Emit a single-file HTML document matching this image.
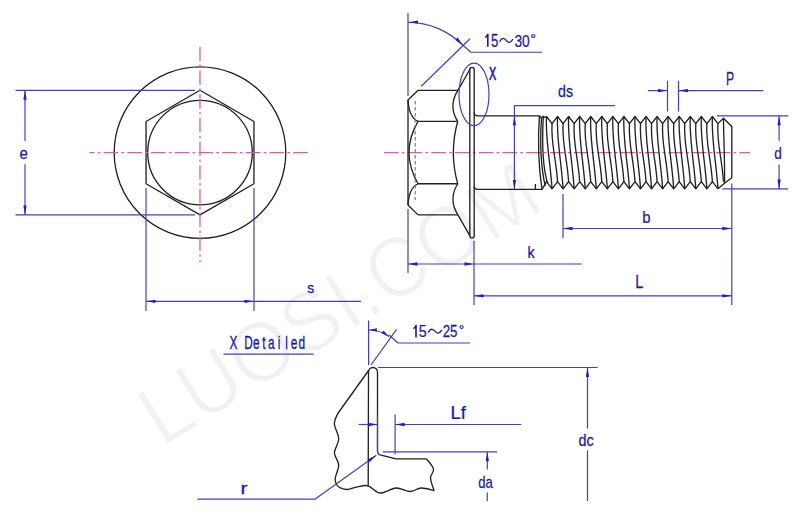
<!DOCTYPE html>
<html><head><meta charset="utf-8"><style>
html,body{margin:0;padding:0;background:#fff;}
svg{display:block;}
</style></head><body>
<svg width="800" height="527" viewBox="0 0 800 527">
<rect width="800" height="527" fill="#fff"/>
<g transform="translate(162,447.4) rotate(-31.8) scale(0.95,1)">
<text x="0" y="0" font-size="85" font-family='"Liberation Sans", sans-serif' fill="#f1f1f1" stroke="#ffffff" stroke-width="1.6">LUOSI.COM</text>
</g>
<circle cx="200" cy="152.6" r="85.8" fill="none" stroke="#202020" stroke-width="1.32"/>
<path d="M200.00,90.30 L253.95,121.45 L253.95,183.75 L200.00,214.90 L146.05,183.75 L146.05,121.45 Z" fill="none" stroke="#202020" stroke-width="1.32" stroke-linejoin="round" />
<circle cx="200" cy="152.6" r="52.3" fill="none" stroke="#202020" stroke-width="1.32"/>
<line x1="89.5" y1="152.6" x2="308.6" y2="152.6" stroke="#e052bc" stroke-width="1.25" stroke-dasharray="14.5 3.3 2.6 3.3" stroke-dashoffset="9.5"/>
<line x1="200" y1="46.8" x2="200" y2="262" stroke="#e052bc" stroke-width="1.25" stroke-dasharray="14.5 3.3 2.6 3.3" stroke-dashoffset="0"/>
<line x1="15.50" y1="90.30" x2="195.00" y2="90.30" stroke="#3e3ecf" stroke-width="1.2" />
<line x1="15.50" y1="214.90" x2="195.00" y2="214.90" stroke="#3e3ecf" stroke-width="1.2" />
<line x1="25.00" y1="90.30" x2="25.00" y2="141.00" stroke="#3e3ecf" stroke-width="1.2" />
<line x1="25.00" y1="164.20" x2="25.00" y2="214.90" stroke="#3e3ecf" stroke-width="1.2" />
<path d="M25.00,90.30 L26.65,99.80 L23.35,99.80 Z" fill="#1e1ec4"/>
<path d="M25.00,214.90 L23.35,205.40 L26.65,205.40 Z" fill="#1e1ec4"/>
<text transform="translate(19.47,158.94) scale(0.9162,1)" font-size="16.26" font-family='"Liberation Sans", sans-serif' fill="#1c16b2" stroke="#1c16b2" stroke-width="0.25">e</text>
<line x1="146.00" y1="188.00" x2="146.00" y2="311.00" stroke="#3e3ecf" stroke-width="1.2" />
<line x1="254.00" y1="188.00" x2="254.00" y2="311.00" stroke="#3e3ecf" stroke-width="1.2" />
<line x1="146.00" y1="301.30" x2="361.00" y2="301.30" stroke="#3e3ecf" stroke-width="1.2" />
<path d="M146.00,301.30 L155.50,299.65 L155.50,302.95 Z" fill="#1e1ec4"/>
<path d="M254.00,301.30 L244.50,302.95 L244.50,299.65 Z" fill="#1e1ec4"/>
<text transform="translate(307.32,292.85) scale(0.9424,1)" font-size="14.79" font-family='"Liberation Sans", sans-serif' fill="#1c16b2" stroke="#1c16b2" stroke-width="0.25">s</text>
<line x1="384" y1="152.6" x2="750" y2="152.6" stroke="#e052bc" stroke-width="1.25" stroke-dasharray="14.5 3.3 2.6 3.3" stroke-dashoffset="0"/>
<line x1="408.00" y1="13.00" x2="408.00" y2="96.00" stroke="#3e3ecf" stroke-width="1.2" />
<line x1="408.00" y1="209.00" x2="408.00" y2="273.00" stroke="#3e3ecf" stroke-width="1.2" />
<path d="M408,22.299999999999997 A77,77 0 0 1 463.11,45.52" fill="none" stroke="#3e3ecf" stroke-width="1.2"/>
<path d="M408.50,22.30 L417.97,20.46 L418.03,23.76 Z" fill="#1e1ec4"/>
<path d="M463.11,45.52 L455.29,39.88 L457.65,37.57 Z" fill="#1e1ec4"/>
<line x1="421.30" y1="86.30" x2="470.00" y2="38.75" stroke="#3e3ecf" stroke-width="1.2" />
<path d="M462.50,44.75 L470.75,52.25 L542.00,52.25" fill="none" stroke="#3e3ecf" stroke-width="1.2" stroke-linejoin="round" />
<path d="M485.2,37.6 Q486.8,36.6 487.8,34.3 L487.8,46.7" fill="none" stroke="#1c16b2" stroke-width="1.6" stroke-linejoin="round"/>
<text transform="translate(490.88,46.53) scale(0.7462,1)" font-size="17.49" font-family='"Liberation Sans", sans-serif' fill="#1c16b2" stroke="#1c16b2" stroke-width="0.25">5</text>
<path d="M499.80,41.30 C502.36,36.50 504.92,38.60 506.20,40.40 S510.04,44.30 512.60,39.50" fill="none" stroke="#1c16b2" stroke-width="1.35" stroke-linecap="round"/>
<text transform="translate(514.39,46.53) scale(0.7956,1)" font-size="17.24" font-family='"Liberation Sans", sans-serif' fill="#1c16b2" stroke="#1c16b2" stroke-width="0.25">30</text>
<text transform="translate(530.34,43.19) scale(1.2013,1)" font-size="11.89" font-family='"Liberation Sans", sans-serif' fill="#1c16b2" stroke="#1c16b2" stroke-width="0.25">°</text>
<path d="M418.00,90.30 L457.90,90.30" fill="none" stroke="#202020" stroke-width="1.32" stroke-linejoin="round" />
<path d="M418.00,214.90 L457.90,214.90" fill="none" stroke="#202020" stroke-width="1.32" stroke-linejoin="round" />
<path d="M418.00,121.45 L457.70,121.45" fill="none" stroke="#202020" stroke-width="1.32" stroke-linejoin="round" />
<path d="M418.00,183.75 L457.70,183.75" fill="none" stroke="#202020" stroke-width="1.32" stroke-linejoin="round" />
<path d="M408,205 L408,100 L418,90.3" fill="none" stroke="#202020" stroke-width="1.32" stroke-linejoin="round" />
<path d="M408,205 L418,214.9" fill="none" stroke="#202020" stroke-width="1.32" stroke-linejoin="round" />
<path d="M408,100 C408.6,111 412,118.5 418,121.45" fill="none" stroke="#202020" stroke-width="1.32" stroke-linejoin="round" />
<path d="M418,121.45 Q400,152.6 418,183.75" fill="none" stroke="#202020" stroke-width="1.32" stroke-linejoin="round" />
<path d="M408,205 C408.6,194 412,186.5 418,183.75" fill="none" stroke="#202020" stroke-width="1.32" stroke-linejoin="round" />
<path d="M457.9,90.3 Q448,105.875 457.7,121.45" fill="none" stroke="#202020" stroke-width="1.32" stroke-linejoin="round" />
<path d="M457.7,121.45 Q449,152.6 457.7,183.75" fill="none" stroke="#202020" stroke-width="1.32" stroke-linejoin="round" />
<path d="M457.7,183.75 Q448,199.325 457.9,214.9" fill="none" stroke="#202020" stroke-width="1.32" stroke-linejoin="round" />
<line x1="415.20" y1="101.00" x2="415.20" y2="200.00" stroke="#707070" stroke-width="1.1" stroke-dasharray="3.5 2.5"/>
<path d="M457.9,90.3 L469.8,69.5 A2.2,2.2 0 0 1 474.2,69.5 L474.2,235.7 A2.2,2.2 0 0 1 469.8,235.7 L457.9,214.9" fill="none" stroke="#202020" stroke-width="1.32" stroke-linejoin="round" />
<path d="M474.2,112.5 Q474.4,115.8 477.5,115.8 L539.4,115.8" fill="none" stroke="#202020" stroke-width="1.32" stroke-linejoin="round" />
<path d="M474.2,186.2 Q474.4,189.4 477.5,189.4 L542,189.4" fill="none" stroke="#202020" stroke-width="1.32" stroke-linejoin="round" />
<line x1="469.80" y1="69.50" x2="469.80" y2="235.70" stroke="#202020" stroke-width="1.32" />
<line x1="535.40" y1="184.00" x2="535.40" y2="189.40" stroke="#202020" stroke-width="1.32" />
<path d="M539.4,115.8 L541.5,118 L543.3,116.3 L545,117.5 L546.50,116.50 L552.03,123.60 L557.56,116.50 L563.09,123.60 L568.62,116.50 L574.15,123.60 L579.68,116.50 L585.21,123.60 L590.74,116.50 L596.27,123.60 L601.80,116.50 L607.33,123.60 L612.86,116.50 L618.39,123.60 L623.92,116.50 L629.45,123.60 L634.98,116.50 L640.51,123.60 L646.04,116.50 L651.57,123.60 L657.10,116.50 L662.63,123.60 L668.16,116.50 L673.69,123.60 L679.22,116.50 L684.75,123.60 L690.28,116.50 L695.81,123.60 L701.34,116.50 L706.87,123.60 L712.40,116.50 L717.93,123.60 L723.46,118.20 L731.8,126.5 L731.8,177.8 L724.5,183.3 L717.93,188.8" fill="none" stroke="#202020" stroke-width="1.32" stroke-linejoin="round" />
<path d="M542,189.4 L546.50,181.60 L552.03,188.80 L557.56,181.60 L563.09,188.80 L568.62,181.60 L574.15,188.80 L579.68,181.60 L585.21,188.80 L590.74,181.60 L596.27,188.80 L601.80,181.60 L607.33,188.80 L612.86,181.60 L618.39,188.80 L623.92,181.60 L629.45,188.80 L634.98,181.60 L640.51,188.80 L646.04,181.60 L651.57,188.80 L657.10,181.60 L662.63,188.80 L668.16,181.60 L673.69,188.80 L679.22,181.60 L684.75,188.80 L690.28,181.60 L695.81,188.80 L701.34,181.60 L706.87,188.80 L712.40,181.60 L717.93,188.80" fill="none" stroke="#202020" stroke-width="1.32" stroke-linejoin="round" />
<path d="M546.50,116.5 C545.30,138.50 550.43,162.80 552.03,188.8" fill="none" stroke="#202020" stroke-width="1.32" stroke-linejoin="round" />
<path d="M552.03,123.6 C550.83,143.60 555.96,157.60 557.56,181.6" fill="none" stroke="#202020" stroke-width="1.32" stroke-linejoin="round" />
<path d="M557.56,116.5 C556.36,138.50 561.49,162.80 563.09,188.8" fill="none" stroke="#202020" stroke-width="1.32" stroke-linejoin="round" />
<path d="M563.09,123.6 C561.89,143.60 567.02,157.60 568.62,181.6" fill="none" stroke="#202020" stroke-width="1.32" stroke-linejoin="round" />
<path d="M568.62,116.5 C567.42,138.50 572.55,162.80 574.15,188.8" fill="none" stroke="#202020" stroke-width="1.32" stroke-linejoin="round" />
<path d="M574.15,123.6 C572.95,143.60 578.08,157.60 579.68,181.6" fill="none" stroke="#202020" stroke-width="1.32" stroke-linejoin="round" />
<path d="M579.68,116.5 C578.48,138.50 583.61,162.80 585.21,188.8" fill="none" stroke="#202020" stroke-width="1.32" stroke-linejoin="round" />
<path d="M585.21,123.6 C584.01,143.60 589.14,157.60 590.74,181.6" fill="none" stroke="#202020" stroke-width="1.32" stroke-linejoin="round" />
<path d="M590.74,116.5 C589.54,138.50 594.67,162.80 596.27,188.8" fill="none" stroke="#202020" stroke-width="1.32" stroke-linejoin="round" />
<path d="M596.27,123.6 C595.07,143.60 600.20,157.60 601.80,181.6" fill="none" stroke="#202020" stroke-width="1.32" stroke-linejoin="round" />
<path d="M601.80,116.5 C600.60,138.50 605.73,162.80 607.33,188.8" fill="none" stroke="#202020" stroke-width="1.32" stroke-linejoin="round" />
<path d="M607.33,123.6 C606.13,143.60 611.26,157.60 612.86,181.6" fill="none" stroke="#202020" stroke-width="1.32" stroke-linejoin="round" />
<path d="M612.86,116.5 C611.66,138.50 616.79,162.80 618.39,188.8" fill="none" stroke="#202020" stroke-width="1.32" stroke-linejoin="round" />
<path d="M618.39,123.6 C617.19,143.60 622.32,157.60 623.92,181.6" fill="none" stroke="#202020" stroke-width="1.32" stroke-linejoin="round" />
<path d="M623.92,116.5 C622.72,138.50 627.85,162.80 629.45,188.8" fill="none" stroke="#202020" stroke-width="1.32" stroke-linejoin="round" />
<path d="M629.45,123.6 C628.25,143.60 633.38,157.60 634.98,181.6" fill="none" stroke="#202020" stroke-width="1.32" stroke-linejoin="round" />
<path d="M634.98,116.5 C633.78,138.50 638.91,162.80 640.51,188.8" fill="none" stroke="#202020" stroke-width="1.32" stroke-linejoin="round" />
<path d="M640.51,123.6 C639.31,143.60 644.44,157.60 646.04,181.6" fill="none" stroke="#202020" stroke-width="1.32" stroke-linejoin="round" />
<path d="M646.04,116.5 C644.84,138.50 649.97,162.80 651.57,188.8" fill="none" stroke="#202020" stroke-width="1.32" stroke-linejoin="round" />
<path d="M651.57,123.6 C650.37,143.60 655.50,157.60 657.10,181.6" fill="none" stroke="#202020" stroke-width="1.32" stroke-linejoin="round" />
<path d="M657.10,116.5 C655.90,138.50 661.03,162.80 662.63,188.8" fill="none" stroke="#202020" stroke-width="1.32" stroke-linejoin="round" />
<path d="M662.63,123.6 C661.43,143.60 666.56,157.60 668.16,181.6" fill="none" stroke="#202020" stroke-width="1.32" stroke-linejoin="round" />
<path d="M668.16,116.5 C666.96,138.50 672.09,162.80 673.69,188.8" fill="none" stroke="#202020" stroke-width="1.32" stroke-linejoin="round" />
<path d="M673.69,123.6 C672.49,143.60 677.62,157.60 679.22,181.6" fill="none" stroke="#202020" stroke-width="1.32" stroke-linejoin="round" />
<path d="M679.22,116.5 C678.02,138.50 683.15,162.80 684.75,188.8" fill="none" stroke="#202020" stroke-width="1.32" stroke-linejoin="round" />
<path d="M684.75,123.6 C683.55,143.60 688.68,157.60 690.28,181.6" fill="none" stroke="#202020" stroke-width="1.32" stroke-linejoin="round" />
<path d="M690.28,116.5 C689.08,138.50 694.21,162.80 695.81,188.8" fill="none" stroke="#202020" stroke-width="1.32" stroke-linejoin="round" />
<path d="M695.81,123.6 C694.61,143.60 699.74,157.60 701.34,181.6" fill="none" stroke="#202020" stroke-width="1.32" stroke-linejoin="round" />
<path d="M701.34,116.5 C700.14,138.50 705.27,162.80 706.87,188.8" fill="none" stroke="#202020" stroke-width="1.32" stroke-linejoin="round" />
<path d="M706.87,123.6 C705.67,143.60 710.80,157.60 712.40,181.6" fill="none" stroke="#202020" stroke-width="1.32" stroke-linejoin="round" />
<path d="M712.40,116.5 C711.20,138.50 716.33,162.80 717.93,188.8" fill="none" stroke="#202020" stroke-width="1.32" stroke-linejoin="round" />
<path d="M717.93,123.6 C716.73,143.60 721.86,157.60 723.46,181.6" fill="none" stroke="#202020" stroke-width="1.32" stroke-linejoin="round" />
<path d="M723.46,118.2 C723.76,140 724.96,165 724.50,183.3" fill="none" stroke="#202020" stroke-width="1.32" stroke-linejoin="round" />
<path d="M539.4,115.8 C537.8,140 539,170 542,189.4" fill="none" stroke="#202020" stroke-width="1.32" stroke-linejoin="round" />
<path d="M541.5,118 C539.8,145 541.5,170 545.2,186" fill="none" stroke="#202020" stroke-width="1.32" stroke-linejoin="round" />
<path d="M543.3,116.3 C541.8,145 543.5,170 547.5,183" fill="none" stroke="#202020" stroke-width="1.32" stroke-linejoin="round" />
<ellipse cx="474" cy="94.4" rx="15" ry="31.3" fill="none" stroke="#3e3ecf" stroke-width="1.2"/>
<text transform="translate(489.06,79.60) scale(0.5967,1)" font-size="18.04" font-family='"Liberation Sans", sans-serif' fill="#1c16b2" stroke="#1c16b2" stroke-width="0.7">X</text>
<path d="M615.00,105.60 L514.40,105.60 L514.40,189.40" fill="none" stroke="#3e3ecf" stroke-width="1.2" stroke-linejoin="round" />
<path d="M514.40,115.80 L516.05,125.30 L512.75,125.30 Z" fill="#1e1ec4"/>
<path d="M514.40,189.40 L512.75,179.90 L516.05,179.90 Z" fill="#1e1ec4"/>
<text transform="translate(558.00,97.43) scale(0.8295,1)" font-size="17.14" font-family='"Liberation Sans", sans-serif' fill="#1c16b2" stroke="#1c16b2" stroke-width="0.25">ds</text>
<line x1="667.50" y1="80.70" x2="667.50" y2="111.60" stroke="#3e3ecf" stroke-width="1.2" />
<line x1="678.50" y1="80.70" x2="678.50" y2="111.60" stroke="#3e3ecf" stroke-width="1.2" />
<line x1="647.90" y1="90.60" x2="667.50" y2="90.60" stroke="#3e3ecf" stroke-width="1.2" />
<line x1="678.50" y1="90.60" x2="763.40" y2="90.60" stroke="#3e3ecf" stroke-width="1.2" />
<path d="M667.50,90.60 L658.00,92.25 L658.00,88.95 Z" fill="#1e1ec4"/>
<path d="M678.50,90.60 L688.00,88.95 L688.00,92.25 Z" fill="#1e1ec4"/>
<text transform="translate(725.89,84.90) scale(0.6505,1)" font-size="18.76" font-family='"Liberation Sans", sans-serif' fill="#1c16b2" stroke="#1c16b2" stroke-width="0.25">P</text>
<line x1="717.00" y1="115.80" x2="788.20" y2="115.80" stroke="#3e3ecf" stroke-width="1.2" />
<line x1="722.60" y1="188.90" x2="788.20" y2="188.90" stroke="#3e3ecf" stroke-width="1.2" />
<line x1="779.10" y1="115.80" x2="779.10" y2="140.80" stroke="#3e3ecf" stroke-width="1.2" />
<line x1="779.10" y1="164.50" x2="779.10" y2="188.90" stroke="#3e3ecf" stroke-width="1.2" />
<path d="M779.10,115.80 L780.75,125.30 L777.45,125.30 Z" fill="#1e1ec4"/>
<path d="M779.10,188.90 L777.45,179.40 L780.75,179.40 Z" fill="#1e1ec4"/>
<text transform="translate(774.32,158.63) scale(0.7971,1)" font-size="17.01" font-family='"Liberation Sans", sans-serif' fill="#1c16b2" stroke="#1c16b2" stroke-width="0.25">d</text>
<line x1="563.00" y1="194.00" x2="563.00" y2="238.00" stroke="#3e3ecf" stroke-width="1.2" />
<line x1="731.80" y1="183.40" x2="731.80" y2="305.00" stroke="#3e3ecf" stroke-width="1.2" />
<line x1="563.00" y1="228.50" x2="731.80" y2="228.50" stroke="#3e3ecf" stroke-width="1.2" />
<path d="M563.00,228.50 L572.50,226.85 L572.50,230.15 Z" fill="#1e1ec4"/>
<path d="M731.80,228.50 L722.30,230.15 L722.30,226.85 Z" fill="#1e1ec4"/>
<text transform="translate(642.33,222.73) scale(0.8617,1)" font-size="17.28" font-family='"Liberation Sans", sans-serif' fill="#1c16b2" stroke="#1c16b2" stroke-width="0.25">b</text>
<line x1="474.00" y1="240.80" x2="474.00" y2="305.00" stroke="#3e3ecf" stroke-width="1.2" />
<line x1="408.00" y1="264.00" x2="581.80" y2="264.00" stroke="#3e3ecf" stroke-width="1.2" />
<path d="M408.00,264.00 L417.50,262.35 L417.50,265.65 Z" fill="#1e1ec4"/>
<path d="M474.00,264.00 L464.50,265.65 L464.50,262.35 Z" fill="#1e1ec4"/>
<text transform="translate(527.43,257.70) scale(0.8450,1)" font-size="16.97" font-family='"Liberation Sans", sans-serif' fill="#1c16b2" stroke="#1c16b2" stroke-width="0.25">k</text>
<line x1="474.00" y1="295.80" x2="731.80" y2="295.80" stroke="#3e3ecf" stroke-width="1.2" />
<path d="M474.00,295.80 L483.50,294.15 L483.50,297.45 Z" fill="#1e1ec4"/>
<path d="M731.80,295.80 L722.30,297.45 L722.30,294.15 Z" fill="#1e1ec4"/>
<text transform="translate(635.20,287.50) scale(0.8000,1)" font-size="18.18" font-family='"Liberation Sans", sans-serif' fill="#1c16b2" stroke="#1c16b2" stroke-width="0.25">L</text>
<text transform="translate(229.62,348.6) scale(0.66,1)" font-size="17.9" font-family='"Liberation Sans", sans-serif' fill="#1c16b2" stroke="#1c16b2" stroke-width="0.35">X</text>
<text transform="translate(244.23,348.6) scale(0.66,1)" font-size="17.9" font-family='"Liberation Sans", sans-serif' fill="#1c16b2" stroke="#1c16b2" stroke-width="0.35">D</text>
<text transform="translate(252.99,348.6) scale(0.66,1)" font-size="17.9" font-family='"Liberation Sans", sans-serif' fill="#1c16b2" stroke="#1c16b2" stroke-width="0.35">e</text>
<text transform="translate(262.16,348.6) scale(0.66,1)" font-size="17.9" font-family='"Liberation Sans", sans-serif' fill="#1c16b2" stroke="#1c16b2" stroke-width="0.35">t</text>
<text transform="translate(267.88,348.6) scale(0.66,1)" font-size="17.9" font-family='"Liberation Sans", sans-serif' fill="#1c16b2" stroke="#1c16b2" stroke-width="0.35">a</text>
<text transform="translate(277.67,348.6) scale(0.66,1)" font-size="17.9" font-family='"Liberation Sans", sans-serif' fill="#1c16b2" stroke="#1c16b2" stroke-width="0.35">i</text>
<text transform="translate(285.24,348.6) scale(0.66,1)" font-size="17.9" font-family='"Liberation Sans", sans-serif' fill="#1c16b2" stroke="#1c16b2" stroke-width="0.35">l</text>
<text transform="translate(290.84,348.6) scale(0.66,1)" font-size="17.9" font-family='"Liberation Sans", sans-serif' fill="#1c16b2" stroke="#1c16b2" stroke-width="0.35">e</text>
<text transform="translate(298.53,348.6) scale(0.66,1)" font-size="17.9" font-family='"Liberation Sans", sans-serif' fill="#1c16b2" stroke="#1c16b2" stroke-width="0.35">d</text>
<line x1="223.50" y1="354.20" x2="313.50" y2="354.20" stroke="#3e3ecf" stroke-width="1.2" />
<line x1="368.60" y1="320.40" x2="368.60" y2="365.00" stroke="#3e3ecf" stroke-width="1.2" />
<line x1="371.00" y1="365.00" x2="396.60" y2="329.40" stroke="#3e3ecf" stroke-width="1.2" />
<path d="M368.6,330 A35,35 0 0 1 389.03,336.58" fill="none" stroke="#3e3ecf" stroke-width="1.2"/>
<path d="M368.90,330.00 L376.87,328.19 L376.93,331.49 Z" fill="#1e1ec4"/>
<path d="M389.03,336.58 L381.57,333.25 L383.50,330.57 Z" fill="#1e1ec4"/>
<path d="M389.00,335.00 L398.00,343.00 L470.00,343.00" fill="none" stroke="#3e3ecf" stroke-width="1.2" stroke-linejoin="round" />
<path d="M413.4,328.6 Q415,327.6 416,325.5 L416,337.4" fill="none" stroke="#1c16b2" stroke-width="1.6" stroke-linejoin="round"/>
<text transform="translate(418.83,337.23) scale(0.8321,1)" font-size="17.20" font-family='"Liberation Sans", sans-serif' fill="#1c16b2" stroke="#1c16b2" stroke-width="0.25">5</text>
<path d="M428.40,332.04 C431.02,327.56 433.64,329.52 434.95,331.20 S438.88,334.84 441.50,330.36" fill="none" stroke="#1c16b2" stroke-width="1.35" stroke-linecap="round"/>
<text transform="translate(442.64,337.23) scale(0.7803,1)" font-size="16.96" font-family='"Liberation Sans", sans-serif' fill="#1c16b2" stroke="#1c16b2" stroke-width="0.25">25</text>
<text transform="translate(458.79,334.20) scale(1.0760,1)" font-size="12.61" font-family='"Liberation Sans", sans-serif' fill="#1c16b2" stroke="#1c16b2" stroke-width="0.25">°</text>
<path d="M368.2,485.6 L368.5,372 A4.5,4.5 0 0 1 377.5,372 L377.5,451 Q377.6,454.6 381,455.2 L396,458.8 L426.5,458.8 C427.67,460.50 432.83,465.80 433.50,469.00 C434.17,472.20 430.42,474.42 430.50,478.00 C430.58,481.58 433.42,488.42 434.00,490.50 C431.83,490.08 425.00,487.83 421.00,488.00 C417.00,488.17 414.17,491.50 410.00,491.50 C405.83,491.50 401.00,487.75 396.00,488.00 C391.00,488.25 384.67,493.37 380.00,493.00 C375.33,492.63 371.77,486.82 368.00,485.80 C364.23,484.78 360.87,486.28 357.40,486.90 C353.93,487.52 350.03,489.35 347.20,489.50 C344.37,489.65 342.18,488.63 340.40,487.80 C338.62,486.97 337.37,486.07 336.50,484.50 C335.63,482.93 334.83,481.70 335.20,478.40 C335.57,475.10 338.83,468.97 338.70,464.70 C338.57,460.43 334.40,457.07 334.40,452.80 C334.40,448.53 338.70,443.93 338.70,439.10 C338.70,434.27 334.55,428.07 334.40,423.80 C334.25,419.53 337.23,415.22 337.80,413.50 L368.6,370.5" fill="none" stroke="#202020" stroke-width="1.32" stroke-linejoin="round" />
<line x1="378.00" y1="367.50" x2="597.70" y2="367.50" stroke="#3e3ecf" stroke-width="1.2" />
<line x1="587.50" y1="367.50" x2="587.50" y2="428.50" stroke="#3e3ecf" stroke-width="1.2" />
<line x1="587.50" y1="450.30" x2="587.50" y2="501.00" stroke="#3e3ecf" stroke-width="1.2" />
<path d="M587.50,367.50 L589.15,377.00 L585.85,377.00 Z" fill="#1e1ec4"/>
<text transform="translate(578.39,445.63) scale(0.8278,1)" font-size="17.41" font-family='"Liberation Sans", sans-serif' fill="#1c16b2" stroke="#1c16b2" stroke-width="0.25">dc</text>
<line x1="377.50" y1="415.60" x2="377.50" y2="453.00" stroke="#3e3ecf" stroke-width="1.2" />
<line x1="395.10" y1="414.60" x2="395.10" y2="454.30" stroke="#3e3ecf" stroke-width="1.2" />
<line x1="358.60" y1="424.50" x2="377.50" y2="424.50" stroke="#3e3ecf" stroke-width="1.2" />
<line x1="395.10" y1="424.50" x2="521.30" y2="424.50" stroke="#3e3ecf" stroke-width="1.2" />
<path d="M377.50,424.50 L368.00,426.15 L368.00,422.85 Z" fill="#1e1ec4"/>
<path d="M395.10,424.50 L404.60,422.85 L404.60,426.15 Z" fill="#1e1ec4"/>
<text transform="translate(450.59,419.00) scale(1.0351,1)" font-size="17.72" font-family='"Liberation Sans", sans-serif' fill="#1c16b2" stroke="#1c16b2" stroke-width="0.25">Lf</text>
<line x1="382.60" y1="451.80" x2="497.10" y2="451.80" stroke="#3e3ecf" stroke-width="1.2" />
<line x1="487.30" y1="451.80" x2="487.30" y2="469.40" stroke="#3e3ecf" stroke-width="1.2" />
<line x1="487.30" y1="492.50" x2="487.30" y2="501.00" stroke="#3e3ecf" stroke-width="1.2" />
<path d="M487.30,451.80 L488.95,461.30 L485.65,461.30 Z" fill="#1e1ec4"/>
<text transform="translate(478.24,487.73) scale(0.7531,1)" font-size="17.41" font-family='"Liberation Sans", sans-serif' fill="#1c16b2" stroke="#1c16b2" stroke-width="0.25">da</text>
<path d="M376.30,455.30 L314.90,499.20 L197.40,499.20" fill="none" stroke="#3e3ecf" stroke-width="1.2" stroke-linejoin="round" />
<path d="M376.30,455.30 L369.53,462.17 L367.61,459.48 Z" fill="#1e1ec4"/>
<text transform="translate(240.60,493.50) scale(1.3000,1)" font-size="16.00" font-family='"Liberation Sans", sans-serif' fill="#1c16b2" stroke="#1c16b2" stroke-width="0.25">r</text>
</svg>
</body></html>
